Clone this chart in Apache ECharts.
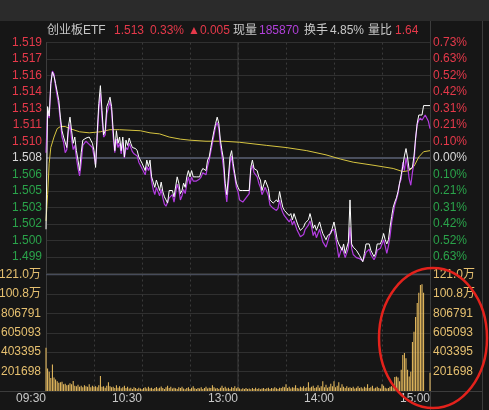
<!DOCTYPE html>
<html><head><meta charset="utf-8">
<script src="https://cdn.jsdelivr.net/npm/echarts@6/dist/echarts.min.js"></script>
<style>html,body{margin:0;padding:0;background:#161616;}#c{width:489px;height:410px;}</style>
</head><body><div id="c"></div>
<script>
// ---------- data ----------
const preClose = 1.508;
const headerItems = [
  ['创业板ETF', 47, 'label'], ['1.513', 114, 'up'], ['0.33%', 150, 'up'], ['▲0.005', 188, 'up'],
  ['现量', 233, 'label'], ['185870', 259, 'purple'], ['换手', 304, 'label'], ['4.85%', 330, 'label'],
  ['量比', 368, 'label'], ['1.64', 395, 'up']
];
const timeTickLabels = { 0: '09:30', 60: '10:30', 120: '13:00', 180: '14:00', 240: '15:00' };
const volTickLabels = ['', '201698', '403395', '605093', '806791', '100.8万', '121.0万'];
const volMax = 1210186;

// [minute index, price]
const priceLine = [
[0,1.5012],[1,1.5129],[2,1.5120],[3,1.5151],[4,1.5162],[5,1.5158],[6,1.5151],[8,1.5135],[9,1.5119],[10,1.5106],[11,1.5100],[13,1.5090],[14,1.5110],[15,1.5119],[16,1.5106],[17,1.5094],[18,1.5100],[19,1.5087],[20,1.5078],[21,1.5068],[22,1.5085],[23,1.5097],[25,1.5099],[27,1.5100],[29,1.5094],[30,1.5087],[31,1.5071],[32,1.5104],[33,1.5132],[34,1.5149],[35,1.5125],[36,1.5102],[37,1.5106],[38,1.5129],[39,1.5133],[40,1.5138],[41,1.5129],[42,1.5106],[43,1.5087],[44,1.5106],[45,1.5094],[46,1.5100],[47,1.5087],[48,1.5100],[49,1.5081],[50,1.5097],[51,1.5092],[52,1.5099],[53,1.5094],[54,1.5090],[55,1.5089],[56,1.5089],[57,1.5087],[58,1.5081],[60,1.5075],[62,1.5068],[63,1.5078],[64,1.5072],[65,1.5078],[66,1.5062],[67,1.5057],[68,1.5052],[69,1.5059],[71,1.5049],[72,1.5057],[73,1.5048],[74,1.5043],[75,1.5040],[76,1.5037],[77,1.5049],[79,1.5049],[80,1.5043],[82,1.5062],[83,1.5056],[84,1.5046],[85,1.5049],[86,1.5056],[87,1.5052],[88,1.5062],[89,1.5068],[90,1.5062],[91,1.5068],[92,1.5062],[94,1.5062],[96,1.5062],[97,1.5067],[98,1.5070],[100,1.5068],[101,1.5078],[102,1.5081],[103,1.5090],[105,1.5106],[106,1.5113],[107,1.5119],[108,1.5113],[109,1.5097],[110,1.5087],[111,1.5078],[112,1.5056],[113,1.5045],[114,1.5062],[115,1.5081],[116,1.5087],[117,1.5075],[118,1.5065],[119,1.5056],[120,1.5052],
[121,1.5049],[123,1.5049],[125,1.5049],[127,1.5049],[128,1.5071],[129,1.5078],[130,1.5070],[132,1.5068],[133,1.5062],[134,1.5059],[135,1.5049],[137,1.5059],[138,1.5059],[139,1.5051],[140,1.5040],[142,1.5037],[144,1.5040],[145,1.5038],[146,1.5048],[147,1.5040],[148,1.5033],[149,1.5030],[150,1.5029],[152,1.5025],[153,1.5027],[154,1.5021],[155,1.5027],[157,1.5018],[158,1.5014],[159,1.5011],[161,1.5014],[162,1.5018],[164,1.5021],[165,1.5027],[166,1.5021],[167,1.5013],[168,1.5016],[169,1.5011],[171,1.5019],[172,1.5013],[173,1.5008],[175,1.5002],[176,1.5006],[178,1.5008],[180,1.5019],[181,1.5011],[182,1.5002],[183,1.4998],[185,1.4992],[186,1.4998],[187,1.4989],[189,1.5000],[190,1.5040],[191,1.4998],[192,1.4995],[194,1.4992],[196,1.4987],[197,1.4986],[198,1.4981],[199,1.4989],[200,1.4998],[202,1.4998],[203,1.4992],[205,1.4986],[206,1.4989],[207,1.4998],[209,1.4998],[210,1.5002],[211,1.5008],[212,1.5002],[213,1.4998],[214,1.5002],[215,1.5014],[216,1.5024],[217,1.5033],[218,1.5038],[219,1.5042],[220,1.5048],[221,1.5056],[222,1.5064],[223,1.5072],[224,1.5082],[225,1.5089],[226,1.5080],[227,1.5069],[228,1.5069],[229,1.5071],[230,1.5082],[231,1.5099],[232,1.5113],[233,1.5121],[234,1.5121],[235,1.5121],[236,1.5130],[240,1.5130]
];
const iopvLine = [
[0,1.5085],[1,1.5125],[2,1.5118],[3,1.5150],[4,1.5163],[5,1.5160],[6,1.5148],[8,1.5130],[9,1.5115],[10,1.5100],[11,1.5095],[12,1.5085],[13,1.5088],[14,1.5105],[15,1.5112],[16,1.5098],[17,1.5088],[18,1.5092],[19,1.5080],[20,1.5070],[21,1.5063],[22,1.5075],[23,1.5092],[25,1.5096],[27,1.5093],[29,1.5090],[30,1.5082],[31,1.5074],[32,1.5098],[33,1.5126],[34,1.5142],[35,1.5118],[36,1.5100],[37,1.5102],[38,1.5122],[39,1.5128],[40,1.5134],[41,1.5125],[42,1.5100],[43,1.5085],[44,1.5098],[45,1.5090],[46,1.5094],[47,1.5084],[48,1.5095],[49,1.5080],[50,1.5090],[51,1.5088],[52,1.5094],[53,1.5090],[54,1.5086],[55,1.5084],[56,1.5085],[57,1.5082],[58,1.5076],[60,1.5070],[62,1.5064],[63,1.5072],[64,1.5068],[65,1.5072],[66,1.5058],[67,1.5050],[68,1.5045],[69,1.5052],[71,1.5044],[72,1.5050],[73,1.5042],[74,1.5036],[75,1.5034],[76,1.5033],[77,1.5042],[79,1.5045],[80,1.5038],[82,1.5055],[83,1.5050],[84,1.5040],[85,1.5044],[86,1.5050],[87,1.5046],[88,1.5055],[89,1.5062],[90,1.5055],[91,1.5062],[92,1.5058],[94,1.5058],[96,1.5060],[97,1.5062],[98,1.5066],[100,1.5064],[101,1.5072],[102,1.5078],[103,1.5086],[105,1.5102],[106,1.5110],[107,1.5114],[108,1.5108],[109,1.5092],[110,1.5082],[111,1.5070],[112,1.5050],[113,1.5038],[114,1.5055],[115,1.5075],[116,1.5082],[117,1.5070],[118,1.5062],[119,1.5052],[120,1.5048],
[121,1.5040],[123,1.5038],[125,1.5042],[127,1.5046],[128,1.5068],[129,1.5073],[130,1.5066],[132,1.5062],[133,1.5056],[134,1.5052],[135,1.5045],[137,1.5052],[138,1.5048],[139,1.5044],[140,1.5035],[142,1.5032],[144,1.5030],[145,1.5032],[146,1.5040],[147,1.5032],[148,1.5028],[149,1.5025],[150,1.5024],[152,1.5019],[153,1.5022],[154,1.5016],[155,1.5020],[157,1.5011],[158,1.5008],[159,1.5005],[161,1.5007],[162,1.5012],[164,1.5016],[165,1.5020],[166,1.5014],[167,1.5006],[168,1.5010],[169,1.5004],[171,1.5012],[172,1.5006],[173,1.5000],[175,1.4995],[176,1.5000],[178,1.5010],[180,1.5012],[181,1.5004],[182,1.4995],[183,1.4985],[184,1.4990],[185,1.4995],[186,1.4990],[187,1.4985],[189,1.4994],[190,1.5014],[191,1.4994],[192,1.4988],[194,1.4985],[196,1.4984],[197,1.4985],[198,1.4982],[199,1.4985],[200,1.4990],[202,1.4993],[203,1.4988],[205,1.4983],[206,1.4986],[207,1.4992],[209,1.4994],[210,1.4998],[211,1.5002],[212,1.4996],[213,1.4989],[214,1.4996],[215,1.5005],[216,1.5018],[217,1.5027],[218,1.5035],[219,1.5040],[220,1.5046],[221,1.5056],[222,1.5060],[223,1.5076],[224,1.5068],[225,1.5080],[226,1.5072],[227,1.5060],[228,1.5054],[229,1.5066],[230,1.5076],[231,1.5098],[232,1.5112],[233,1.5116],[234,1.5118],[235,1.5116],[236,1.5117],[237,1.5121],[238,1.5120],[239,1.5115],[240,1.5108]
];
const avgLine = [
[0,1.5020],[1,1.5045],[2,1.5075],[3,1.5090],[5,1.5100],[7,1.5108],[9,1.5110],[12,1.5110],[15,1.5108],[21,1.5105],[27,1.5104],[34,1.5105],[40,1.5107],[46,1.5107],[59,1.5106],[65,1.5104],[71,1.5103],[77,1.5100],[84,1.5098],[90,1.5097],[100,1.5096],[111,1.5096],[121,1.5095],[138,1.5092],[150,1.5090],[163,1.5087],[175,1.5083],[184,1.5079],[192,1.5076],[205,1.5073],[217,1.5070],[223,1.5067],[227,1.5068],[230,1.5072],[233,1.5081],[236,1.5086],[240,1.5087]
];
// per-minute volume, 09:30 .. 15:00 (241 bars)
const volumes = [
450000,235000,200000,135000,275000,140000,120000,100000,85000,90000,
95000,70000,75000,60000,65000,80000,70000,105000,55000,50000,
65000,45000,55000,40000,60000,50000,45000,70000,40000,55000,
45000,50000,38000,60000,155000,45000,50000,35000,55000,90000,
50000,40000,45000,30000,60000,35000,50000,28000,40000,55000,
30000,45000,25000,35000,20000,40000,30000,22000,35000,25000,
18000,30000,40000,25000,45000,28000,35000,20000,30000,42000,
25000,35000,48000,30000,22000,40000,55000,30000,45000,25000,
35000,28000,20000,40000,30000,45000,25000,18000,30000,40000,
22000,35000,50000,28000,20000,30000,25000,38000,22000,30000,
45000,25000,35000,30000,60000,40000,25000,30000,20000,35000,
55000,30000,45000,25000,35000,20000,40000,30000,50000,28000,
40000,
25000,18000,28000,20000,30000,22000,25000,18000,30000,20000,
35000,22000,28000,18000,25000,30000,20000,28000,35000,22000,
30000,25000,40000,28000,22000,35000,30000,45000,38000,70000,
30000,45000,25000,40000,35000,60000,30000,25000,45000,35000,
50000,30000,40000,90000,35000,45000,55000,30000,40000,60000,
35000,50000,100000,40000,65000,35000,45000,75000,50000,100000,
40000,55000,90000,35000,70000,45000,30000,50000,35000,40000,
30000,45000,25000,35000,50000,30000,40000,25000,45000,35000,
70000,30000,40000,55000,25000,35000,45000,30000,25000,70000,
55000,35000,25000,30000,45000,
50000,40000,145000,150000,140000,100000,220000,375000,395000,340000,
220000,150000,200000,510000,615000,770000,915000,1020000,1100000,1110000,
1020000,0,0,0,190000
];

// ---------- styling ----------
const FONT = "'Liberation Sans','Noto Sans CJK SC',sans-serif";
const C_UP = '#e5394a', C_DOWN = '#2aa34a', C_FLAT = '#d8d8d8', C_LABEL = '#c8c8c8';
const C_VOL = '#f2c462', C_GRID = '#303030', C_BORDER = '#3c3c3c';
const step = preClose / 959;           // grid spacing = 0.73% / 7
const pMin = 952 * step, pMax = 966 * step;
const colorOf = v => { v = parseFloat(v); return v > preClose + step / 2 ? C_UP : (v < preClose - step / 2 ? C_DOWN : C_FLAT); };
const hdrColor = { label: C_LABEL, up: C_UP, purple: '#b040d8' };

const chart = echarts.init(document.getElementById('c'), null, { renderer: 'canvas' });
const priceAxisBase = {
  type: 'value', gridIndex: 0, min: pMin, max: pMax, interval: step, scale: true,
  axisTick: { show: false }, splitLine: { show: false }
};
const volAxisBase = {
  type: 'value', gridIndex: 1, min: 0, max: volMax, interval: volMax / 6,
  axisTick: { show: false }, splitLine: { show: false }
};
const volLabel = (v) => volTickLabels[Math.round(v / (volMax / 6))] || '';

const option = {
  backgroundColor: '#161616',
  animation: false,
  grid: [
    { left: 46, top: 42.6, width: 384, height: 230.8, outerBoundsMode: 'none' },
    { left: 46, top: 274.5, width: 384, height: 116.5, outerBoundsMode: 'none' }
  ],
  xAxis: [
    { type: 'value', gridIndex: 0, min: 0, max: 240, interval: 30,
      axisLine: { show: false }, axisTick: { show: false }, axisLabel: { show: false },
      splitLine: { show: true, lineStyle: { color: '#3a3a3a', type: [2, 3] } } },
    { type: 'value', gridIndex: 1, min: 0, max: 240, interval: 30,
      axisLine: { show: false }, axisTick: { show: false },
      axisLabel: { show: true, margin: 2, align: 'right', color: C_LABEL, fontSize: 12, fontFamily: FONT,
        formatter: v => timeTickLabels[Math.round(v)] || '' },
      splitLine: { show: true, lineStyle: { color: '#3a3a3a', type: [2, 3] } } }
  ],
  yAxis: [
    Object.assign({}, priceAxisBase, { position: 'left',
      axisLine: { show: true, lineStyle: { color: C_BORDER } },
      splitLine: { show: true, lineStyle: { color: C_GRID } },
      axisLabel: { margin: 4, fontSize: 12, fontFamily: FONT, color: colorOf,
        formatter: v => (v < pMin + step / 2 ? '' : v.toFixed(3)) } }),
    Object.assign({}, priceAxisBase, { position: 'right',
      axisLine: { show: false },
      axisLabel: { margin: 3, fontSize: 12, fontFamily: FONT, color: colorOf,
        formatter: v => (v < pMin + step / 2 ? '' : Math.abs((v - preClose) / preClose * 100).toFixed(2) + '%') } }),
    Object.assign({}, volAxisBase, { position: 'left',
      axisLine: { show: true, lineStyle: { color: C_BORDER } },
      splitLine: { show: true, lineStyle: { color: C_GRID } },
      axisLabel: { margin: 5, fontSize: 12, fontFamily: FONT, color: '#e6c070', formatter: volLabel } }),
    Object.assign({}, volAxisBase, { position: 'right',
      axisLine: { show: false },
      axisLabel: { margin: 3, fontSize: 12, fontFamily: FONT, color: '#e6c070', formatter: volLabel } })
  ],
  series: [
    { name: 'zero', type: 'line', xAxisIndex: 0, yAxisIndex: 0, z: 1, silent: true, symbol: 'none',
      data: [[0, preClose], [240, preClose]], lineStyle: { color: '#4a4f5e', width: 2 } },
    { name: 'noon', type: 'line', xAxisIndex: 0, yAxisIndex: 0, z: 1, silent: true, symbol: 'none',
      data: [[120, pMin], [120, pMax]], lineStyle: { color: '#3e3e3e', width: 1 } },
    { name: 'volTop', type: 'line', xAxisIndex: 1, yAxisIndex: 2, z: 1, silent: true, symbol: 'none',
      data: [[0, volMax], [240, volMax]], lineStyle: { color: '#474c5a', width: 1.5 } },
    { name: 'volNoon', type: 'line', xAxisIndex: 1, yAxisIndex: 2, z: 1, silent: true, symbol: 'none',
      data: [[120, 0], [120, volMax]], lineStyle: { color: '#3e3e3e', width: 1 } },
    { name: '均价', type: 'line', xAxisIndex: 0, yAxisIndex: 0, z: 3, symbol: 'none',
      data: avgLine, lineStyle: { color: '#d6c440', width: 1 } },
    { name: 'IOPV', type: 'line', xAxisIndex: 0, yAxisIndex: 0, z: 4, symbol: 'none',
      data: iopvLine, lineStyle: { color: '#b23ce0', width: 1.2 } },
    { name: '价格', type: 'line', xAxisIndex: 0, yAxisIndex: 0, z: 5, symbol: 'none',
      data: priceLine, lineStyle: { color: '#ffffff', width: 1 } },
    { name: '成交量', type: 'bar', xAxisIndex: 1, yAxisIndex: 2, z: 3, barWidth: 1,
      data: volumes.map((v, i) => [i, v]), itemStyle: { color: C_VOL } }
  ],
  graphic: [
    { type: 'rect', silent: true, z: -10, shape: { x: 0, y: 0, width: 489, height: 21 }, style: { fill: '#2b2b2b' } },
    { type: 'line', silent: true, shape: { x1: 430.5, y1: 21, x2: 430.5, y2: 410 }, style: { stroke: C_BORDER, lineWidth: 1 } },
    { type: 'line', silent: true, shape: { x1: 482.5, y1: 21, x2: 482.5, y2: 410 }, style: { stroke: C_BORDER, lineWidth: 1 } },
    { type: 'line', silent: true, shape: { x1: 0, y1: 391.5, x2: 482, y2: 391.5 }, style: { stroke: C_BORDER, lineWidth: 1 } }
  ].concat(headerItems.map(h => ({
    type: 'text', silent: true, left: h[1], top: 25,
    style: { text: h[0], fill: hdrColor[h[2]], fontSize: 12, fontFamily: FONT }
  }))).concat([
    { type: 'ellipse', silent: true, z: 100, shape: { cx: 433, cy: 338, rx: 54, ry: 70 },
      style: { fill: 'none', stroke: '#e3221c', lineWidth: 2.5 } }
  ])
};
chart.setOption(option);
</script></body></html>
